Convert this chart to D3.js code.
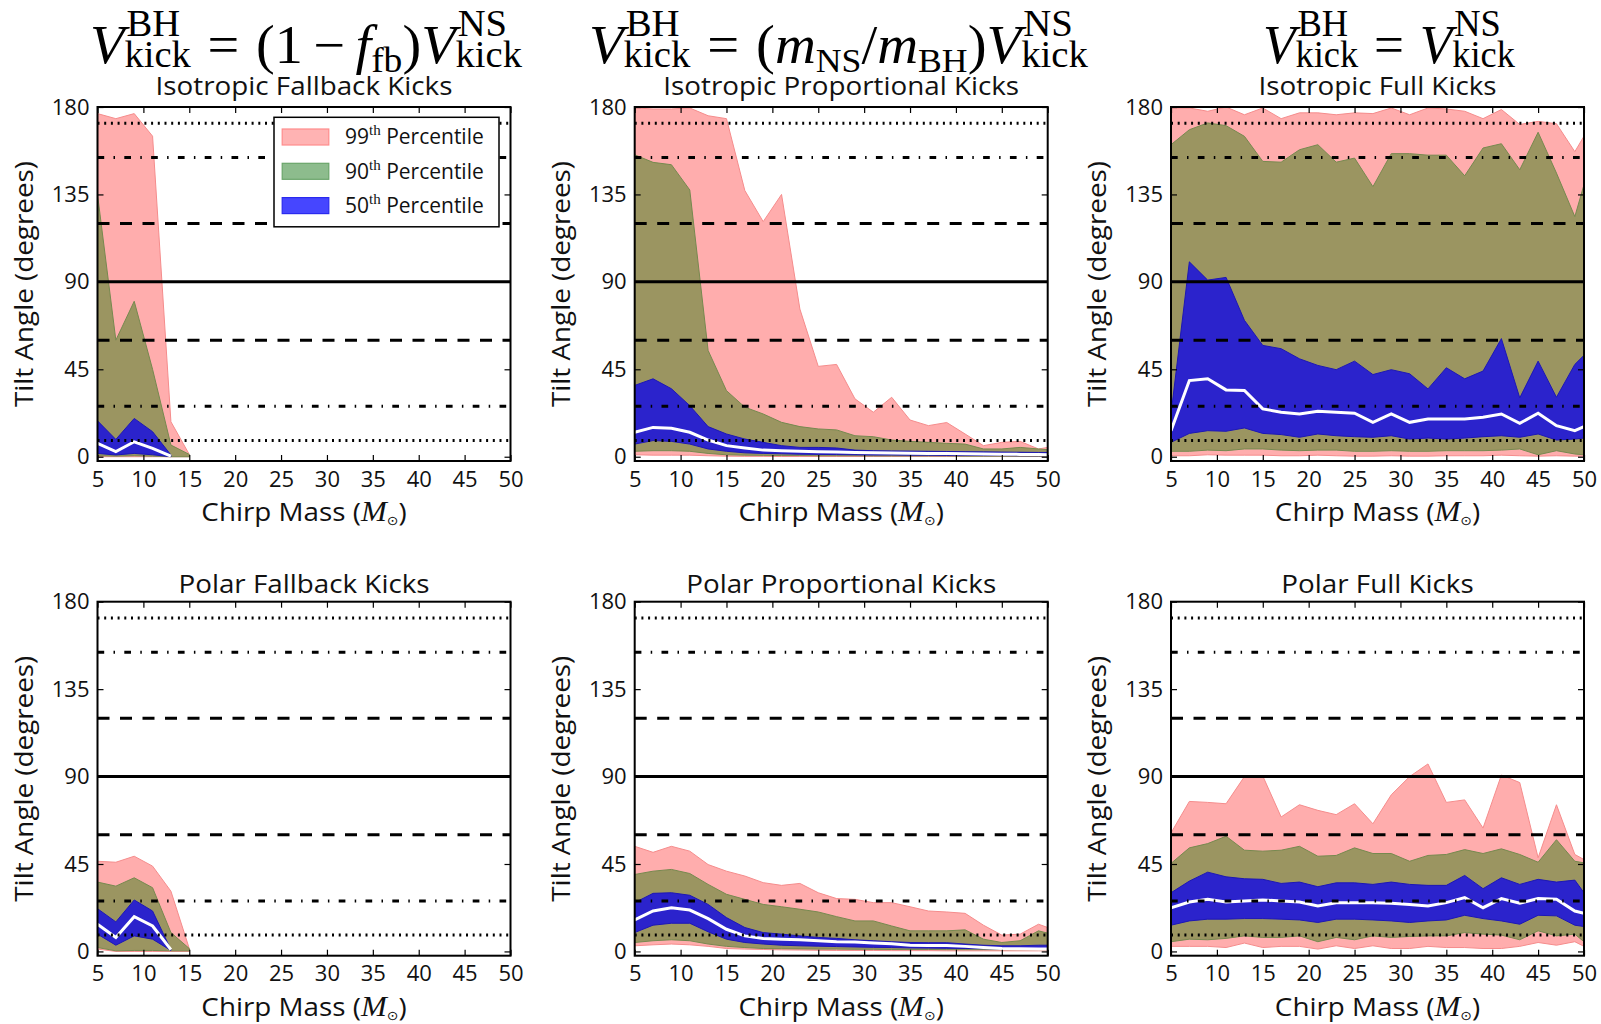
<!DOCTYPE html>
<html>
<head>
<meta charset="utf-8">
<script src="https://cdn.jsdelivr.net/npm/d3@7"></script>
<style>
  body { margin: 0; background: #fff; }
  .tick text { font-family: "Open Sans", sans-serif; font-size: 22px; fill: #111; }
  .sub { font-family: "Open Sans", sans-serif; fill: #111; }
</style>
</head>
<body>
<div id="chart"></div>
<script>
// chirp mass grid
var xs = [5, 7, 9, 11, 13, 15, 17, 19, 21, 23, 25, 27, 29, 31, 33, 35, 37, 39, 41, 43, 45, 47, 49, 50]

var xTicks = [5, 10, 15, 20, 25, 30, 35, 40, 45, 50]
var yTicks = [0, 45, 90, 135, 180]

// reference angles drawn across every panel
var refAngles = [8.4, 26, 60, 90, 120, 154, 171.6]
var refStyles = ["dot", "dashdot", "dash", "solid", "dash", "dashdot", "dot"]

var legendLabels = ["99", "90", "50"]

var N = null

// Isotropic Fallback
var isoFb_hi99 = [176.6, 174, 176.6, 165, 18, 1.2, N, N, N, N, N, N, N, N, N, N, N, N, N, N, N, N, N, N]
var isoFb_hi90 = [135, 60, 80, 45, 6, 1.2, N, N, N, N, N, N, N, N, N, N, N, N, N, N, N, N, N, N]
var isoFb_hi50 = [18.5, 8.9, 19.7, 12.9, 0.9, N, N, N, N, N, N, N, N, N, N, N, N, N, N, N, N, N, N, N]
var isoFb_med = [6.9, 2.6, 7.7, 4.3, 0.3, N, N, N, N, N, N, N, N, N, N, N, N, N, N, N, N, N, N, N]
var isoFb_lo50 = [1.7, 0.9, 1.7, 1, 0, N, N, N, N, N, N, N, N, N, N, N, N, N, N, N, N, N, N, N]
var isoFb_lo90 = [0.5, 0.3, 0.5, 0.3, 0, 0, N, N, N, N, N, N, N, N, N, N, N, N, N, N, N, N, N, N]
var isoFb_lo99 = [0, 0, 0, 0, 0, 0, N, N, N, N, N, N, N, N, N, N, N, N, N, N, N, N, N, N]

// Isotropic Proportional
var isoPr_hi99 = [179.5, 179, 179, 179.5, 175.5, 174, 137, 121, 135, 76, 46.5, 47.5, 29.8, 22.9, 30.6, 18.9, 16, 17.6, 11.7, 5.7, 7.4, 7.9, 4, 4.8]
var isoPr_hi90 = [155.4, 151.5, 150.3, 137.3, 54.7, 34, 25.5, 22, 17.7, 15.5, 14.3, 13.8, 10.8, 10.3, 8.6, 7.9, 7.4, 6.9, 6.5, 4, 4, 4.8, 4, 3.6]
var isoPr_hi50 = [36.7, 40.1, 35, 26.3, 15.5, 11.7, 9.1, 7.4, 5.7, 4.8, 4.8, 4.5, 3.4, 3.1, 3, 2.9, 2.8, 2.7, 2.6, 2.5, 2.4, 2.3, 2.2, 2.2]
var isoPr_med = [12.6, 15.1, 14.6, 12.6, 8.6, 5.7, 4.5, 3.4, 3.1, 2.8, 2.6, 2.4, 2.2, 2, 1.9, 1.8, 1.7, 1.6, 1.5, 1.4, 1.3, 1.2, 1.1, 1]
var isoPr_lo50 = [6.5, 8.3, 7.9, 6.5, 4, 2.8, 2, 1.7, 1.5, 1.3, 1.2, 1.1, 1, 0.9, 0.9, 0.8, 0.8, 0.7, 0.7, 0.6, 0.6, 0.5, 0.5, 0.5]
var isoPr_lo90 = [2.8, 3.1, 3.1, 2.8, 1.7, 1, 0.8, 0.7, 0.6, 0.6, 0.5, 0.5, 0.5, 0.4, 0.4, 0.4, 0.4, 0.4, 0.3, 0.3, 0.3, 0.3, 0.3, 0.3]
var isoPr_lo99 = [1, 0.8, 0.8, 0.8, 0.5, 0.3, 0.2, 0.2, 0.1, 0.1, 0.1, 0.1, 0.1, 0.1, 0.1, 0.1, 0.1, 0.1, 0.1, 0.1, 0.1, 0.1, 0.1, 0.1]

// Isotropic Full
var isoFu_hi99 = [179.5, 179.5, 177.8, 180, 176, 179.5, 174, 177, 177, 176, 177, 176.6, 179.5, 176, 179.5, 179, 177.8, 174, 178.7, 171, 172.6, 171.4, 157, 165]
var isoFu_hi90 = [160.6, 168.3, 171.8, 170.4, 164.9, 152, 151.6, 158, 160.6, 151.6, 153.7, 139, 156, 156, 155.2, 155.2, 144.6, 158.9, 161.1, 147.7, 167, 146, 123.6, 140]
var isoFu_hi50 = [22, 100.3, 90.9, 92.3, 70.2, 57.3, 55.6, 50.4, 47, 44.8, 49.2, 42.3, 44.8, 42.7, 34.9, 45.8, 40.1, 44.1, 60.8, 30.3, 49.2, 30.6, 47.5, 52.2]
var isoFu_med = [13.4, 39.2, 40.1, 34.4, 34.1, 24.6, 22.9, 22, 23.4, 22.9, 22.4, 17.7, 22, 17.7, 19.4, 19.4, 19.4, 20.3, 22, 17.2, 22.4, 16, 13.4, 15.5]
var isoFu_lo50 = [7.4, 12, 13.4, 13.1, 14.8, 12, 11.4, 10, 11.7, 10.8, 10.3, 10, 10.8, 9.1, 9.6, 9.1, 9.6, 10.3, 10.8, 10, 11.7, 8.6, 9.1, 9.6]
var isoFu_lo90 = [2.8, 2.8, 3.4, 3.1, 4, 4, 3.4, 3.1, 3.4, 3.4, 2.8, 2.8, 3.1, 2.8, 2.8, 3.1, 3.1, 3.1, 3.4, 4, 1, 3.1, 1.4, 1]
var isoFu_lo99 = [0.5, 0.5, 1, 0.8, 0.8, 0.8, 0.5, 0.5, 0.8, 0.5, 0.3, 0.3, 0.5, 0.3, 0.3, 0.5, 0.5, 0.5, 0.8, 0.5, 0.3, 0.5, 0.3, 0.3]

// Polar Fallback
var polFb_hi99 = [46.4, 45.9, 49, 43.9, 31, 1.5, N, N, N, N, N, N, N, N, N, N, N, N, N, N, N, N, N, N]
var polFb_hi90 = [35.7, 33.6, 37.9, 32.8, 9.7, 1.5, N, N, N, N, N, N, N, N, N, N, N, N, N, N, N, N, N, N]
var polFb_hi50 = [22, 15.2, 26.5, 20.8, 0.9, N, N, N, N, N, N, N, N, N, N, N, N, N, N, N, N, N, N, N]
var polFb_med = [14, 7.2, 17.9, 13.1, 0.9, N, N, N, N, N, N, N, N, N, N, N, N, N, N, N, N, N, N, N]
var polFb_lo50 = [8.9, 3.2, 8, 6.3, 0.5, N, N, N, N, N, N, N, N, N, N, N, N, N, N, N, N, N, N, N]
var polFb_lo90 = [2, 0.3, 0.5, 0.5, 0.3, 0.3, N, N, N, N, N, N, N, N, N, N, N, N, N, N, N, N, N, N]
var polFb_lo99 = [1.2, 0, 0, 0, 0, 0, N, N, N, N, N, N, N, N, N, N, N, N, N, N, N, N, N, N]

// Polar Proportional
var polPr_hi99 = [54.1, 51, 54.1, 51.6, 44.7, 41.3, 38.8, 35.4, 34, 35, 30.2, 27.2, 26.8, 25.1, 25.1, 23, 20.8, 20.3, 19.6, 13.5, 8.4, 8.9, 14, 12.3]
var polPr_hi90 = [39.6, 41.3, 42.2, 40.1, 34.5, 29.4, 26.8, 24.2, 23, 21.7, 20.3, 17.9, 15.7, 15.7, 13.1, 10.6, 10.6, 10.6, 11.1, 6.3, 4.6, 5.5, 10.6, 9.4]
var polPr_hi50 = [25.1, 29.9, 30.2, 28.9, 24.2, 17.4, 12.3, 9.7, 8.9, 8, 7.2, 6.7, 6, 5.5, 5, 4.6, 4.5, 4.5, 3.8, 3.2, 2.9, 2.9, 3.2, 3.2]
var polPr_med = [16.2, 20.8, 22.5, 21.3, 16.9, 11.4, 8, 6.7, 6.3, 6, 5.5, 5, 4.8, 4.3, 4, 3.2, 3, 3, 2.6, 2, 1.5, 1.4, 1.3, 1.2]
var polPr_lo50 = [9.7, 13.5, 14.5, 14.5, 10.1, 6.3, 4.6, 3.8, 3.2, 2.9, 2.7, 2.5, 2.3, 2.1, 2, 1.8, 1.7, 1.6, 1.5, 1.4, 1.3, 1.2, 1.2, 1.2]
var polPr_lo90 = [4.6, 5.5, 6, 5.5, 3.8, 2.6, 2, 1.5, 1.4, 1.3, 1.2, 1.2, 1.1, 1.1, 1, 1, 1, 0.9, 0.9, 0.9, 0.9, 0.9, 0.9, 0.9]
var polPr_lo99 = [2.9, 3.4, 3.8, 3.4, 2.6, 1.5, 1.2, 1, 0.8, 0.7, 0.6, 0.5, 0.5, 0.5, 0.4, 0.4, 0.4, 0.3, 0.3, 0.3, 0.3, 0.3, 0.3, 0.3]

// Polar Full
var polFu_hi99 = [61, 77.2, 76.7, 76, 90, 90.3, 69.2, 75.5, 72.6, 70.4, 76, 65.7, 80.6, 90, 96.5, 76.7, 78, 63.5, 90.8, 86.9, 48.2, 75.5, 49.9, 47.3]
var polFu_hi90 = [45.3, 53.3, 55.5, 59.3, 52.1, 51.6, 52.1, 54.1, 49, 49.4, 53.3, 50.4, 50.4, 46.4, 49.4, 49.9, 52.4, 50.4, 52.8, 49.9, 45.9, 57.5, 46.4, 45.6]
var polFu_hi50 = [30.2, 36.2, 40.8, 38.4, 37.4, 37.1, 35, 35.7, 33.3, 35.3, 35.3, 34.5, 35.7, 34.5, 34, 34, 39.1, 32.3, 37.9, 34.5, 37.1, 35.7, 36.7, 30.2]
var polFu_med = [22.5, 25.4, 26.8, 25.4, 26, 26.5, 26, 25.4, 23.4, 25.1, 25.1, 25.1, 24.8, 24.2, 23.4, 25.1, 27.7, 22.5, 27.2, 24.8, 27.2, 26.8, 20.8, 19.6]
var polFu_lo50 = [13.5, 15.7, 16.6, 16.6, 16.9, 16.9, 16.6, 16.2, 14.9, 16.6, 16.6, 16.2, 15.7, 14.9, 15.7, 16.2, 18.6, 16.9, 15.7, 14, 18.6, 18.3, 13.5, 12.8]
var polFu_lo90 = [5, 6.3, 6, 6.7, 8, 7.2, 7.2, 8, 5, 7.2, 6, 8, 7.2, 7.7, 8, 8, 9.7, 8.9, 8.4, 6, 10.6, 8, 8.9, 5]
var polFu_lo99 = [2.6, 2.6, 2.6, 2, 4.3, 2, 2.6, 2.6, 1.2, 2.9, 1.5, 2.9, 1.5, 1.5, 2.6, 2, 2, 1.5, 1.5, 2.6, 4.6, 3.2, 5, 2.6]

var titles = ["Isotropic Fallback Kicks", "Isotropic Proportional Kicks", "Isotropic Full Kicks",
              "Polar Fallback Kicks", "Polar Proportional Kicks", "Polar Full Kicks"]

// layout
var svgWidth = 1601
var svgHeight = 1024
var panelLeft = [97.5, 634.7, 1171]
var panelTop = [107, 601.7]
var titleOffset = [-12, -9]
var width = 413
var height = 354
var stretch = 1.07   // sans texts in the reference are a little wider than Open Sans

var colors = {
  pink: "#ffadad", pinkEdge: "#f58c8c",
  olive: "#9b9561", oliveEdge: "#76894f",
  blue: "#2b23cc", blueEdge: "#1d17b5"
}

var dashes = {
  dot: "2,4.7",
  dashdot: "6.7,9.3,1.5,9.3",
  dash: "12,10.5",
  solid: null
}

function pack(hi99, hi90, hi50, med, lo50, lo90, lo99) {
  return xs.map((x, i) => ({x: x, hi99: hi99[i], hi90: hi90[i], hi50: hi50[i], med: med[i],
                            lo50: lo50[i], lo90: lo90[i], lo99: lo99[i]}))
}

var panels = [
  pack(isoFb_hi99, isoFb_hi90, isoFb_hi50, isoFb_med, isoFb_lo50, isoFb_lo90, isoFb_lo99),
  pack(isoPr_hi99, isoPr_hi90, isoPr_hi50, isoPr_med, isoPr_lo50, isoPr_lo90, isoPr_lo99),
  pack(isoFu_hi99, isoFu_hi90, isoFu_hi50, isoFu_med, isoFu_lo50, isoFu_lo90, isoFu_lo99),
  pack(polFb_hi99, polFb_hi90, polFb_hi50, polFb_med, polFb_lo50, polFb_lo90, polFb_lo99),
  pack(polPr_hi99, polPr_hi90, polPr_hi50, polPr_med, polPr_lo50, polPr_lo90, polPr_lo99),
  pack(polFu_hi99, polFu_hi90, polFu_hi50, polFu_med, polFu_lo50, polFu_lo90, polFu_lo99)
]

var svg = d3.select("#chart")
  .append("svg")
  .attr("width", svgWidth)
  .attr("height", svgHeight)

var xScale = d3.scaleLinear().domain([5, 50]).range([0, width])
var yScale = d3.scaleLinear().domain([-2.2, 180]).range([height, 0])

function band(lo, hi) {
  return d3.area()
    .defined(d => d[lo] != null && d[hi] != null)
    .x(d => xScale(d.x))
    .y0(d => yScale(d[lo]))
    .y1(d => yScale(d[hi]))
}

panels.forEach(function(data, p) {
  var col = p % 3
  var row = Math.floor(p / 3)
  var g = svg.append("g")
    .attr("transform", `translate(${panelLeft[col]}, ${panelTop[row]})`)

  g.append("clipPath").attr("id", "clip" + p)
    .append("rect").attr("width", width).attr("height", height)

  var plot = g.append("g").attr("clip-path", `url(#clip${p})`)

  // percentile bands
  plot.append("path").datum(data)
    .attr("d", band("lo99", "hi99"))
    .attr("fill", colors.pink).attr("stroke", colors.pinkEdge).attr("stroke-width", 1)
  plot.append("path").datum(data)
    .attr("d", band("lo90", "hi90"))
    .attr("fill", colors.olive).attr("stroke", colors.oliveEdge).attr("stroke-width", 1)
  plot.append("path").datum(data)
    .attr("d", band("lo50", "hi50"))
    .attr("fill", colors.blue).attr("stroke", colors.blueEdge).attr("stroke-width", 1)

  // median
  plot.append("path").datum(data)
    .attr("d", d3.line().defined(d => d.med != null).x(d => xScale(d.x)).y(d => yScale(d.med)))
    .attr("fill", "none").attr("stroke", "#fff").attr("stroke-width", 3)

  // reference angles
  plot.selectAll(".ref").data(refAngles).enter()
    .append("line")
    .attr("x1", 0).attr("x2", width)
    .attr("y1", d => yScale(d)).attr("y2", d => yScale(d))
    .attr("stroke", "#000").attr("stroke-width", 3)
    .attr("stroke-dasharray", (d, i) => dashes[refStyles[i]])

  // axes with inward ticks
  var bottomAxis = g.append("g").attr("transform", `translate(0, ${height})`)
    .call(d3.axisBottom(xScale).tickValues(xTicks).tickSizeInner(-6).tickSizeOuter(0).tickPadding(10))
  var leftAxis = g.append("g")
    .call(d3.axisLeft(yScale).tickValues(yTicks).tickSizeInner(-6).tickSizeOuter(0).tickPadding(8))
  var topAxis = g.append("g")
    .call(d3.axisTop(xScale).tickValues(xTicks).tickSizeInner(-6).tickSizeOuter(0).tickFormat(""))
  var rightAxis = g.append("g").attr("transform", `translate(${width}, 0)`)
    .call(d3.axisRight(yScale).tickValues(yTicks).tickSizeInner(-6).tickSizeOuter(0).tickFormat(""))

  ;[bottomAxis, leftAxis, topAxis, rightAxis].forEach(function(a) {
    a.attr("font-family", null).attr("font-size", null)
    a.select(".domain").remove()
    a.selectAll("line").attr("stroke", "#000").attr("stroke-width", 1.2)
  })

  // frame
  g.append("rect")
    .attr("width", width).attr("height", height)
    .attr("fill", "none").attr("stroke", "#000").attr("stroke-width", 2)

  // subplot title
  g.append("text")
    .attr("class", "sub")
    .attr("transform", `translate(${width / 2}, ${titleOffset[row]}) scale(${stretch}, 1)`)
    .attr("text-anchor", "middle")
    .style("font-size", "26px")
    .text(titles[p])

  // y label
  g.append("text")
    .attr("class", "sub")
    .attr("transform", `translate(-65, ${height / 2}) rotate(-90) scale(${stretch}, 1)`)
    .attr("text-anchor", "middle")
    .style("font-size", "26px")
    .text("Tilt Angle (degrees)")

  // x label
  var xl = g.append("text")
    .attr("class", "sub")
    .attr("transform", `translate(${width / 2}, ${height + 60}) scale(${stretch}, 1)`)
    .attr("text-anchor", "middle")
    .style("font-size", "26px")
  xl.append("tspan").text("Chirp Mass (")
  xl.append("tspan").style("font-family", "'Liberation Serif', serif").style("font-style", "italic")
    .style("font-size", "29px").text("M")
  xl.append("tspan").style("font-family", "'DejaVu Sans', sans-serif").style("font-size", "13px")
    .attr("dy", 4).text("\u2299")
  xl.append("tspan").attr("dy", -4).text(")")

  // legend only on first panel
  if (p === 0) {
    var lg = g.append("g").attr("transform", "translate(176.5, 10.3)")
    lg.append("rect").attr("width", 225).attr("height", 109.5)
      .attr("fill", "#fff").attr("stroke", "#000").attr("stroke-width", 1.5)
    var sw = [["#ffb3b3", "#ff8c8c"], ["#8dbc8d", "#6aa56a"], ["#4646ff", "#2a2aee"]]
    legendLabels.forEach(function(lab, i) {
      var cy = 19.7 + i * 34.3
      lg.append("rect").attr("x", 8.2).attr("y", cy - 8).attr("width", 46.6).attr("height", 16)
        .attr("fill", sw[i][0]).attr("stroke", sw[i][1]).attr("stroke-width", 1.2)
      var t = lg.append("text").attr("class", "sub").attr("x", 71).attr("y", cy + 7.5)
        .style("font-size", "21px")
      t.append("tspan").text(lab)
      t.append("tspan").attr("dy", -9).style("font-family", "'Liberation Serif', serif")
        .style("font-size", "15px").text("th")
      t.append("tspan").attr("dy", 9).text(" Percentile")
    })
  }
})

// column formulas, laid out piece by piece then stretched to the reference width
var serif = "'Liberation Serif', serif"
function formula(tokens, cx, baseline, target) {
  var g = svg.append("g")
  var x = 0
  tokens.forEach(function(tok) {
    if (tok.gap) { x += tok.gap; return }
    if (tok.sup != null || tok.sub != null) {
      var w = 0
      if (tok.sup != null) {
        var a = g.append("text").attr("x", x + 2).attr("y", -27).style("font-family", serif)
          .style("font-size", "37px").text(tok.sup)
        w = Math.max(w, a.node().getComputedTextLength() + 2)
      }
      if (tok.sub != null) {
        var b = g.append("text").attr("x", x).attr("y", tok.subY || 4).style("font-family", serif)
          .style("font-size", (tok.subSize || 37) + "px").text(tok.sub)
        w = Math.max(w, b.node().getComputedTextLength())
      }
      x += w
      return
    }
    var t = g.append("text").attr("x", x).attr("y", 0).style("font-family", serif)
      .style("font-size", (tok.size || 54) + "px")
      .style("font-style", tok.it ? "italic" : "normal")
      .text(tok.t)
    x += t.node().getComputedTextLength()
  })
  var sx = target / x
  g.attr("transform", `translate(${cx - target / 2}, ${baseline}) scale(${sx}, 1)`)
}

var lhs = [{t: "V", it: true}, {sup: "BH", sub: "kick"}, {gap: 16}, {t: "="}, {gap: 16}]
var rhsV = [{t: "V", it: true}, {sup: "NS", sub: "kick"}]

formula(lhs.concat([{t: "(1"}, {gap: 10}, {t: "\u2212"}, {gap: 10}, {t: "f", it: true},
  {sub: "fb", subY: 9, subSize: 36}, {t: ")"}]).concat(rhsV), 306, 63, 432)
formula(lhs.concat([{t: "("}, {t: "m", it: true}, {sub: "NS", subY: 9, subSize: 34},
  {t: "/"}, {t: "m", it: true}, {sub: "BH", subY: 9, subSize: 34}, {t: ")"}]).concat(rhsV), 838.5, 63, 499)
formula(lhs.concat(rhsV), 1389, 63, 252)
</script>
</body>
</html>
